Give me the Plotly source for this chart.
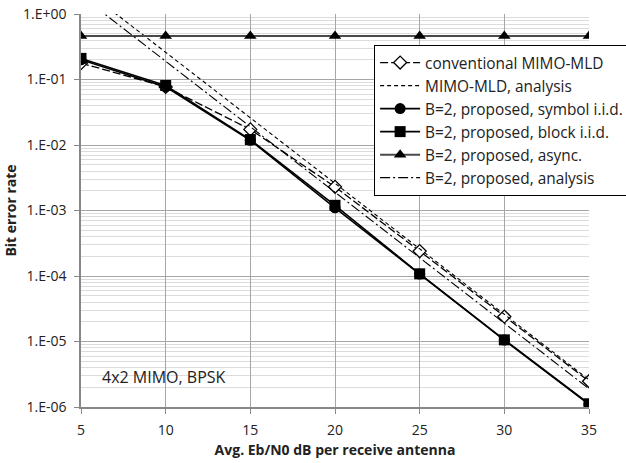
import plotly.graph_objects as go

snr = [5, 10, 15, 20, 25, 30, 35]

ber_conv = [0.178, 0.077, 0.0173, 2.3e-3, 2.4e-4, 2.4e-5, 2.47e-6]
ber_mld_analysis = [2.6, 0.26, 0.026, 2.6e-3, 2.6e-4, 2.6e-5, 2.6e-6]
ber_symbol_iid = [0.20, 0.077, 0.0118, 1.1e-3, 1.07e-4, 1.05e-5, 1.1e-6]
ber_block_iid = [0.21, 0.081, 0.0121, 1.2e-3, 1.08e-4, 1.06e-5, 1.12e-6]
ber_async = [0.46, 0.46, 0.46, 0.46, 0.46, 0.46, 0.46]
ber_prop_analysis = [1.9, 0.19, 0.019, 1.9e-3, 1.9e-4, 1.9e-5, 1.9e-6]

y_tickvals = [1, 1e-1, 1e-2, 1e-3, 1e-4, 1e-5, 1e-6]
y_ticktext = ["1.E+00", "1.E-01", "1.E-02", "1.E-03", "1.E-04", "1.E-05", "1.E-06"]
x_tickvals = [5, 10, 15, 20, 25, 30, 35]

FONT = "Open Sans"

fig = go.Figure()

fig.add_trace(go.Scatter(
    x=snr, y=ber_conv, name="conventional MIMO-MLD", mode="lines+markers",
    line=dict(color="black", width=1.3, dash="8px,3px"),
    marker=dict(symbol="diamond", size=10, color="white", line=dict(color="black", width=1.3))))
fig.add_trace(go.Scatter(
    x=snr, y=ber_mld_analysis, name="MIMO-MLD, analysis", mode="lines",
    line=dict(color="black", width=1.1, dash="4px,3px")))
fig.add_trace(go.Scatter(
    x=snr, y=ber_symbol_iid, name="B=2, proposed, symbol i.i.d.", mode="lines+markers",
    line=dict(color="black", width=1.6),
    marker=dict(symbol="circle", size=11, color="black")))
fig.add_trace(go.Scatter(
    x=snr, y=ber_block_iid, name="B=2, proposed, block i.i.d.", mode="lines+markers",
    line=dict(color="black", width=1.6),
    marker=dict(symbol="square", size=11, color="black")))
fig.add_trace(go.Scatter(
    x=snr, y=ber_async, name="B=2, proposed, async.", mode="lines+markers",
    line=dict(color="#4a4a4a", width=2),
    marker=dict(symbol="triangle-up", size=11, color="black")))
fig.add_trace(go.Scatter(
    x=snr, y=ber_prop_analysis, name="B=2, proposed, analysis", mode="lines",
    line=dict(color="black", width=1.1, dash="10px,3px,2px,3px")))

fig.add_annotation(
    text="4x2 MIMO, BPSK", xref="paper", yref="paper", x=0.037, y=0.077,
    xanchor="left", yanchor="middle", showarrow=False,
    font=dict(family=FONT, size=16, color="#222"))

fig.update_layout(
    width=626, height=463,
    margin=dict(l=81, r=37, t=14, b=56, autoexpand=False),
    paper_bgcolor="white", plot_bgcolor="white",
    font=dict(family=FONT, size=14, color="#222"),
    showlegend=True,
    legend=dict(x=0.577, y=0.921, xanchor="left", yanchor="top",
                bgcolor="white", bordercolor="black", borderwidth=1,
                font=dict(family=FONT, size=15.4, color="#222"),
                itemwidth=40, tracegroupgap=0),
)

fig.update_xaxes(
    range=[5, 35], tickvals=x_tickvals, ticks="outside", ticklen=5,
    tickcolor="#888", showline=True, linecolor="#888", linewidth=1.5,
    showgrid=True, gridcolor="#a6a6a6", gridwidth=1, zeroline=False,
    automargin=False, ticklabelstandoff=4,
    title=dict(text="<b>Avg. Eb/N0 dB per receive antenna</b>", standoff=8,
               font=dict(family=FONT, size=14)),
    tickfont=dict(family=FONT, size=14))

fig.update_yaxes(
    type="log", range=[-6, 0], tickvals=y_tickvals, ticktext=y_ticktext,
    ticks="outside", ticklen=5, tickcolor="#888",
    showline=True, linecolor="#888", linewidth=1.5,
    showgrid=True, gridcolor="#a6a6a6", gridwidth=1, zeroline=False,
    automargin=False, ticklabelstandoff=5,
    minor=dict(dtick="D1", showgrid=True, gridcolor="#dcdcdc", gridwidth=1, ticks=""),
    title=dict(text="<b>Bit error rate</b>", standoff=3, font=dict(family=FONT, size=14)),
    tickfont=dict(family=FONT, size=14))

fig.write_html("out.html")
